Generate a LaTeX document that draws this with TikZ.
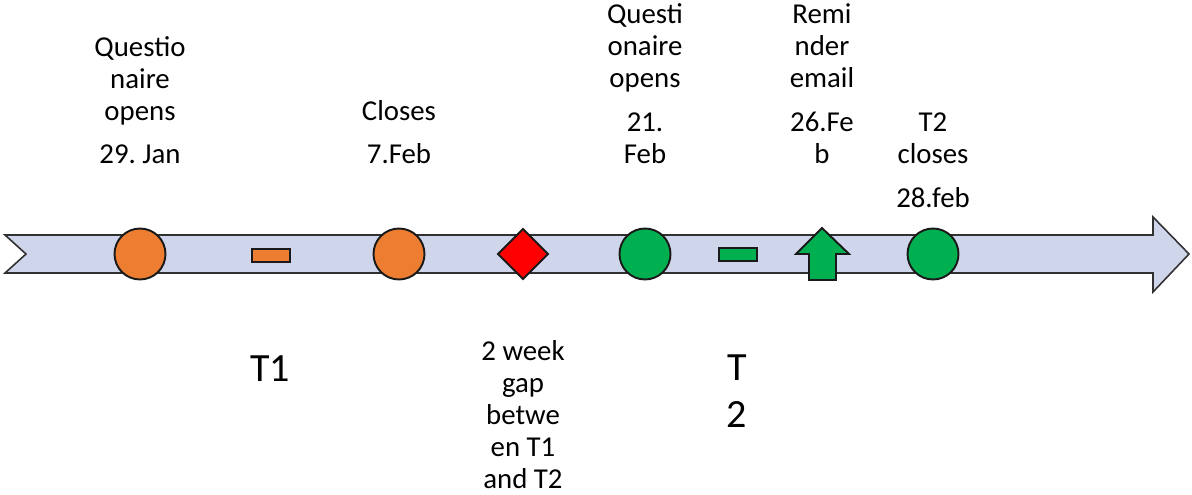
\documentclass[tikz,border=0pt]{standalone}
\usepackage{fontspec}
\setmainfont{Carlito}
\frenchspacing
\usetikzlibrary{shapes.geometric}

\definecolor{bandblue}{HTML}{CFD5EA}
\definecolor{tone}{HTML}{ED7D31}
\definecolor{ttwo}{HTML}{00B050}
\definecolor{gapred}{HTML}{FF0000}
\definecolor{edge}{HTML}{1A1A1A}

\begin{document}
\begin{tikzpicture}[
  x=0.02cm, y=-0.02cm,
  every node/.style={font=\fontsize{16.4}{18.2}\selectfont},
  event/.style={circle, draw=edge, line width=1.1pt, minimum size=1.02cm, inner sep=0pt},
  bar/.style={rectangle, draw=edge, line width=1.1pt, minimum width=0.76cm, minimum height=0.26cm, inner sep=0pt},
  gapmark/.style={diamond, draw=edge, line width=1.1pt, fill=gapred, minimum width=1.02cm, minimum height=1.02cm, inner sep=0pt},
  lbl/.style={align=center, anchor=base, inner sep=0pt},
  big/.style={align=center, anchor=base, inner sep=0pt, font=\fontsize{22.8}{26.7}\selectfont}
]
\useasboundingbox (0,0) rectangle (1192,494);

% --- the time line ---
\draw[fill=bandblue, draw=edge!90, line width=0.9pt]
  (5,235) -- (1153,235) -- (1153,217) -- (1189,254) -- (1153,292)
  -- (1153,273) -- (5,273) -- (26,254) -- cycle;

% --- T1 ---
\node[event, fill=tone] (open1)  at (140,254) {};
\node[bar, fill=tone]   (t1bar)  at (271,255.5) {};
\node[event, fill=tone] (close1) at (399,254) {};

% --- gap ---
\node[gapmark] (gap) at (523,254) {};

% --- T2 ---
\node[event, fill=ttwo] (open2)  at (645,254) {};
\node[bar, fill=ttwo]   (t2bar)  at (738,254.5) {};
\coordinate (remind) at (822,254);
\draw[fill=ttwo, draw=edge, line width=1.1pt]
  (822,228) -- (849,254) -- (836,254) -- (836,280) -- (809,280)
  -- (809,254) -- (796,254) -- cycle;
\node[event, fill=ttwo] (close2) at (933,254) {};

% --- labels above (placed on the baseline of their last line) ---
\node[lbl] (open1txt)  at (140,120) {Questio\\naire\\opens};
\node[lbl] (open1date) at (140,163) {29. Jan};
\node[lbl] (close1txt) at (399,120) {Closes};
\node[lbl] (close1date) at (399,163) {7.Feb};
\node[lbl] (open2txt)  at (645,87)  {Questi\\onaire\\opens};
\node[lbl] (open2date) at (645,163) {21.\\Feb};
\node[lbl] (remindtxt) at (822,87)  {Remi\\nder\\email};
\node[lbl] (reminddate) at (822,163) {26.Fe\\b};
\node[lbl] (close2txt) at (933,163) {T2\\closes};
\node[lbl] (close2date) at (933,207) {28.feb};

% --- labels below ---
\node[big] (t1txt)  at (270,381) {T1};
\node[lbl] (gaptxt) at (523,488) {2 week\\gap\\betwe\\en T1\\and T2};
\node[big] (t2txt)  at (737,427) {T\\2};

\end{tikzpicture}
\end{document}
